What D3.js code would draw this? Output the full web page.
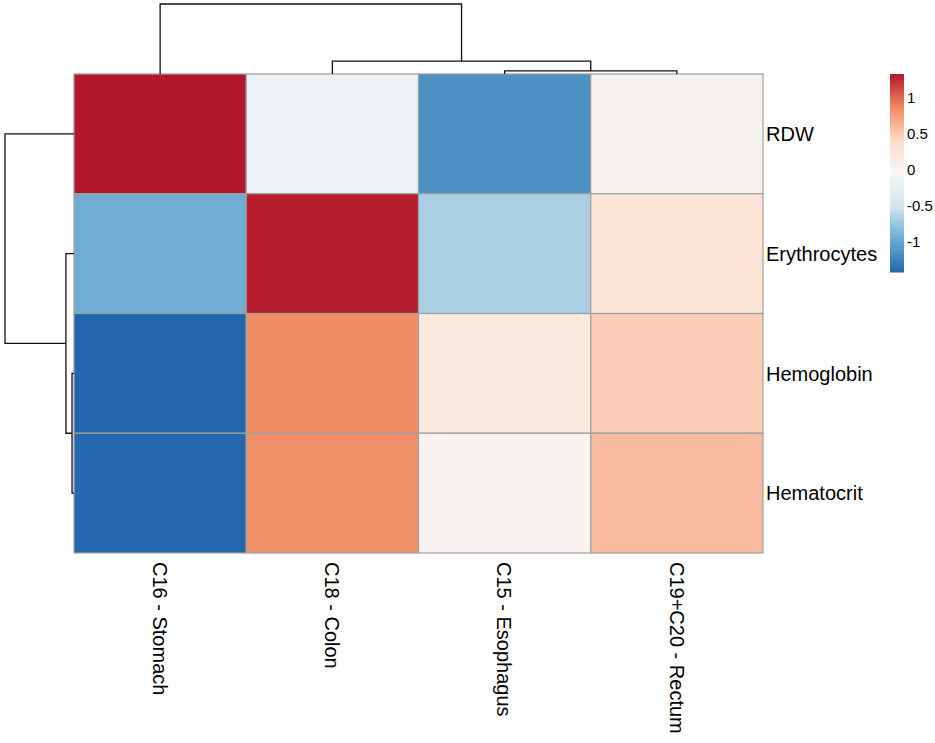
<!DOCTYPE html>
<html>
<head>
<meta charset="utf-8">
<script src="https://cdn.jsdelivr.net/npm/d3@7"></script>
<style>
  body { margin: 0; background: #fff; }
  text { font-family: "Liberation Sans", Arial, Helvetica, sans-serif; fill: #000; }
</style>
</head>
<body>
<div id="chart"></div>
<script>
// columns and rows in dendrogram order
var columns = ["C16 - Stomach", "C18 - Colon", "C15 - Esophagus", "C19+C20 - Rectum"];
var rows = ["RDW", "Erythrocytes", "Hemoglobin", "Hematocrit"];

// scaled values, one array per row (same order as columns)
var rdw          = [ 1.33, -0.19, -1.13, 0.03];
var erythrocytes = [-0.93,  1.31, -0.67, 0.28];
var hemoglobin   = [-1.42,  0.85,  0.18, 0.49];
var hematocrit   = [-1.40,  0.84,  0.02, 0.60];
var values = [rdw, erythrocytes, hemoglobin, hematocrit];

// hclust style merges: negative = leaf index (1-based), positive = earlier merge
var colMerge = [[-3, -4], [-2, 1], [-1, 2]];
var colHeights = [0.14, 0.59, 3.2];
var rowMerge = [[-3, -4], [-2, 1], [-1, 2]];
var rowHeights = [0.10, 0.41, 3.5];

var legendTicks = [-1, -0.5, 0, 0.5, 1];
var palette = ["#2166AC", "#67A9CF", "#D1E5F0", "#F7F7F7", "#FDDBC7", "#EF8A62", "#B2182B"];

var W = 935, H = 743;
var svg = d3.select("#chart").append("svg")
  .attr("width", W)
  .attr("height", H);

// heatmap area (window.top is reserved, so use other names)
var hmLeft = 74, hmRight = 763, hmTop = 74, hmBottom = 553;

var x = d3.scaleBand().domain(columns).range([hmLeft, hmRight]);
var y = d3.scaleBand().domain(rows).range([hmTop, hmBottom]);

// colour scale spread over data range, like pheatmap breaks
var flat = [].concat.apply([], values);
var vmin = d3.min(flat), vmax = d3.max(flat);
var color = d3.scaleLinear()
  .domain(palette.map(function(d, i) { return vmin + i * (vmax - vmin) / (palette.length - 1); }))
  .range(palette)
  .interpolate(d3.interpolateRgb);

// cells
rows.forEach(function(r, i) {
  svg.selectAll(null)
    .data(values[i])
    .enter().append("rect")
    .attr("x", function(d, j) { return x(columns[j]); })
    .attr("y", y(r))
    .attr("width", x.bandwidth())
    .attr("height", y.bandwidth())
    .attr("fill", function(d) { return color(d); })
    .attr("stroke", "#a0a0a0")
    .attr("stroke-width", 1.2);
});

// row labels
svg.selectAll(".rowlab")
  .data(rows)
  .enter().append("text")
  .attr("class", "rowlab")
  .attr("x", hmRight + 3)
  .attr("y", function(d) { return y(d) + y.bandwidth() / 2; })
  .attr("dy", "0.36em")
  .style("font-size", "20px")
  .text(function(d) { return d; });

// column labels, rotated
svg.selectAll(".collab")
  .data(columns)
  .enter().append("text")
  .attr("class", "collab")
  .attr("transform", function(d) { return "translate(" + (x(d) + x.bandwidth() / 2) + "," + (hmBottom + 9) + ") rotate(90)"; })
  .attr("dy", "0.36em")
  .style("font-size", "20px")
  .text(function(d) { return d; });

// build dendrogram segments from merge table
function dendro(merge, heights, leafPos, hScale, vertical) {
  var pos = [];
  var segs = [];
  function get(k) {
    if (k < 0) return { p: leafPos(-k - 1), h: 0 };
    return pos[k - 1];
  }
  merge.forEach(function(m, i) {
    var a = get(m[0]), b = get(m[1]), h = heights[i];
    segs.push([[a.p, a.h], [a.p, h], [b.p, h], [b.p, b.h]]);
    pos.push({ p: (a.p + b.p) / 2, h: h });
  });
  var line = d3.line()
    .x(function(d) { return vertical ? d[0] : hScale(d[1]); })
    .y(function(d) { return vertical ? hScale(d[1]) : d[0]; });
  return { segs: segs, line: line };
}

var colH = d3.scaleLinear().domain([0, d3.max(colHeights)]).range([hmTop, 4]);
var cd = dendro(colMerge, colHeights, function(i) { return x(columns[i]) + x.bandwidth() / 2; }, colH, true);
svg.selectAll(".cdend")
  .data(cd.segs)
  .enter().append("path")
  .attr("d", cd.line)
  .attr("fill", "none")
  .attr("stroke", "#111")
  .attr("stroke-width", 1.3);

var rowH = d3.scaleLinear().domain([0, d3.max(rowHeights)]).range([hmLeft, 5]);
var rd = dendro(rowMerge, rowHeights, function(i) { return y(rows[i]) + y.bandwidth() / 2; }, rowH, false);
svg.selectAll(".rdend")
  .data(rd.segs)
  .enter().append("path")
  .attr("d", rd.line)
  .attr("fill", "none")
  .attr("stroke", "#111")
  .attr("stroke-width", 1.3);

// legend
var legX = 890, legW = 14;
var legY = d3.scaleLinear().domain([vmin, vmax]).range([272, 74]);
var steps = d3.range(100).map(function(i) { return vmin + i * (vmax - vmin) / 100; });
var stepH = (legY(vmin) - legY(vmax)) / 100;
svg.selectAll(".leg")
  .data(steps)
  .enter().append("rect")
  .attr("x", legX)
  .attr("y", function(d) { return legY(d) - stepH; })
  .attr("width", legW)
  .attr("height", stepH + 0.5)
  .attr("fill", function(d) { return color(d + (vmax - vmin) / 200); });

svg.selectAll(".legt")
  .data(legendTicks)
  .enter().append("text")
  .attr("x", legX + legW + 3)
  .attr("y", function(d) { return legY(d); })
  .attr("dy", "0.36em")
  .style("font-size", "15px")
  .text(function(d) { return d; });
</script>
</body>
</html>
